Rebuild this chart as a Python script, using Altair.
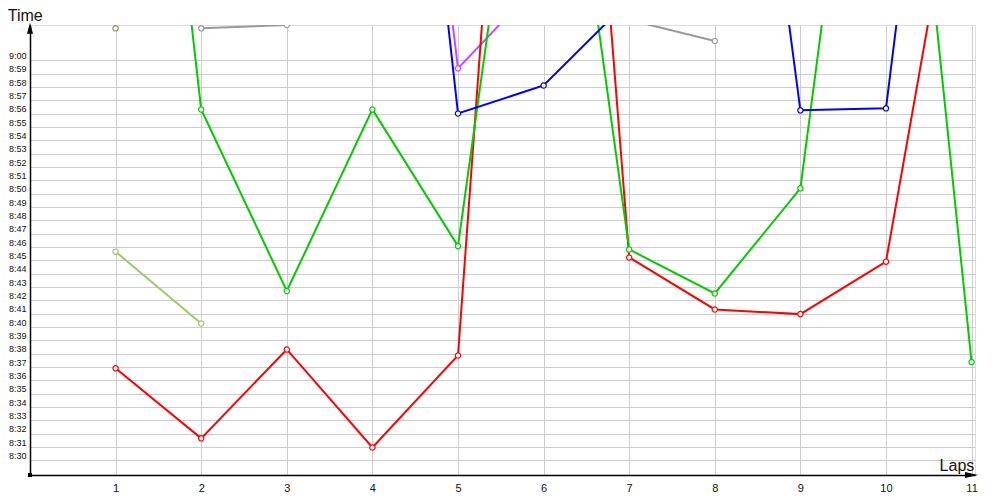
import altair as alt
import pandas as pd

laps = [1, 2, 3, 4, 5, 6, 7, 8, 9, 10, 11]

# clock times per lap (None = no value)
red = ["8:36:54", "8:31:39", "8:38:19", "8:30:58", "8:37:52", "10:06:30",
       "8:45:13", "8:41:19", "8:40:58", "8:44:54", "9:21:12"]
green = ["9:53:00", "8:56:19", "8:42:42", "8:56:19", "8:46:04", "9:32:18",
         "8:45:49", "8:42:31", "8:50:24", "9:39:24", "8:37:22"]
blue = [None, None, None, "9:54:00", "8:56:01", "8:58:07",
        "9:04:30", "9:45:06", "8:56:15", "8:56:24", "9:48:00"]
magenta = [None, None, None, "9:52:48", "8:59:24", "9:06:09",
           None, None, None, None, None]
gray = [None, "9:02:24", "9:02:39", "9:04:30", "9:05:00", "9:04:00",
        "9:03:02", "9:01:27", None, None, None]
olive = ["9:02:24", None, None, None, None, None, None, None, None, None, None]
light_green = ["8:45:39", "8:40:16", None, None, None, None, None, None, None, None, None]

series_names = ["light_green", "olive", "gray", "magenta", "red", "green", "blue"]
series_vals = [light_green, olive, gray, magenta, red, green, blue]
series_colors = ["#99cc66", "#999944", "#999999", "#cc44ff", "#ff0000", "#00cc00", "#0000ff"]

y_ticks = list(range(510, 541))  # 8:30 .. 9:00 in minutes since midnight


def to_min(s):
    h, m, sec = (int(p) for p in s.split(":"))
    return h * 60 + m + sec / 60.0


rows = []
for name, vals in zip(series_names, series_vals):
    for lap, v in zip(laps, vals):
        if v is not None:
            rows.append({"series": name, "lap": lap, "t": to_min(v)})
df = pd.DataFrame(rows)

xaxis = alt.Axis(values=laps, format="d", title=None, ticks=False, tickSize=0,
                 labelPadding=7, labelFontSize=11, labelFont="Liberation Sans",
                 labelColor="#111111", domainColor="black", domainWidth=1.5,
                 grid=True, gridColor="#cccccc", gridWidth=1, labelFlush=False)
yaxis = alt.Axis(values=y_ticks, title=None, ticks=False, tickSize=0,
                 labelExpr="floor(datum.value/60) + ':' + (datum.value % 60 < 10 ? '0' : '') + (datum.value % 60)",
                 labelBaseline="alphabetic", labelOffset=-2, labelPadding=4,
                 labelFontSize=9, labelFont="Liberation Sans", labelColor="#111111",
                 labelOverlap=False, labelBound=False, labelFlush=False,
                 domainColor="black", domainWidth=1.5,
                 grid=True, gridColor="#cccccc", gridWidth=1)

xenc = alt.X("lap:Q", scale=alt.Scale(domain=[0, 11.04], nice=False, zero=False), axis=xaxis)
yenc = alt.Y("t:Q", scale=alt.Scale(domain=[508.9, 542.65], nice=False, zero=False), axis=yaxis)

base = alt.Chart(df)
layers = []
for name, col in zip(series_names, series_colors):
    sub = base.transform_filter(alt.datum.series == name)
    layers.append(sub.mark_line(color=col, strokeWidth=2, clip=True).encode(x=xenc, y=yenc))
    layers.append(sub.mark_point(shape="circle", filled=True, fill="white", stroke=col,
                                 strokeWidth=1.2, size=28, opacity=1, clip=True)
                  .encode(x=xenc, y=yenc))

one = pd.DataFrame({"k": [0]})
y_arrow = alt.Chart(one).mark_point(shape="M0,-1L0.55,1L-0.55,1Z", filled=True, color="black",
                                    size=121, opacity=1).encode(x=alt.value(0), y=alt.value(3.2))
x_arrow = alt.Chart(one).mark_point(shape="M1,0L-1,-0.45L-1,0.45Z", filled=True, color="black",
                                    size=169, opacity=1).encode(x=alt.value(941.5), y=alt.value(450))
origin = alt.Chart(one).mark_point(shape="square", filled=True, color="black",
                                   size=16, opacity=1).encode(x=alt.value(0), y=alt.value(450))
t_title = alt.Chart(pd.DataFrame({"s": ["Time"]})).mark_text(
    align="left", baseline="alphabetic", fontSize=16, font="Liberation Sans", color="#111111"
).encode(x=alt.value(-22.3), y=alt.value(-4.3), text="s:N")
l_title = alt.Chart(pd.DataFrame({"s": ["Laps"]})).mark_text(
    align="right", baseline="alphabetic", fontSize=16, font="Liberation Sans", color="#111111"
).encode(x=alt.value(944.3), y=alt.value(445.7), text="s:N")

chart = alt.layer(*layers, y_arrow, x_arrow, origin, t_title, l_title).properties(
    width=945, height=450,
    autosize=alt.AutoSizeParams(type="none"),
    padding={"left": 22, "top": 17, "right": 17, "bottom": 17},
).configure_view(stroke=None).configure(background="white")

chart.save("out.html", embed_options={"renderer": "svg", "actions": False})
